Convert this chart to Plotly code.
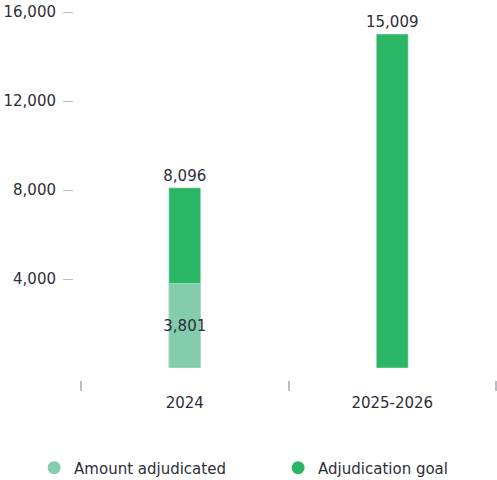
import plotly.graph_objects as go

categories = ["2024", "2025-2026"]
amount_adjudicated = [3801, None]
adjudication_goal = [8096, 15009]
y_ticks = [4000, 8000, 12000, 16000]

C_LIGHT = "#84cdac"
C_DARK = "#2bb665"
TXT = "#2e2e38"
FONT = "DejaVu Sans"

fig = go.Figure()
fig.add_bar(x=categories, y=adjudication_goal, marker_color=C_DARK, name="Adjudication goal",
            text=[f"{v:,}" for v in adjudication_goal], textposition="outside",
            constraintext="none", textangle=0,
            textfont=dict(color=TXT, size=15, family=FONT), cliponaxis=False, showlegend=False,
            hoverinfo="skip")
fig.add_bar(x=categories, y=amount_adjudicated, marker_color=C_LIGHT, name="Amount adjudicated",
            text=[f"{v:,}" if v else "" for v in amount_adjudicated], textposition="inside",
            insidetextanchor="middle", constraintext="none", textangle=0,
            textfont=dict(color=TXT, size=15, family=FONT), showlegend=False, hoverinfo="skip")
# legend entries with circle markers
fig.add_scatter(x=[None], y=[None], mode="markers", name="Amount adjudicated",
                marker=dict(color=C_LIGHT, size=13, symbol="circle"))
fig.add_scatter(x=[None], y=[None], mode="markers", name="Adjudication goal",
                marker=dict(color=C_DARK, size=13, symbol="circle"))

fig.update_layout(
    width=497, height=480,
    margin=dict(l=73, r=1, t=12, b=100, autoexpand=False),
    paper_bgcolor="white", plot_bgcolor="white",
    barmode="overlay", bargap=0.846,
    font=dict(family=FONT, color=TXT, size=15),
    legend=dict(orientation="h", x=-0.092, xanchor="left", y=-0.239, yanchor="middle",
                font=dict(size=15, color=TXT, family=FONT), entrywidth=199, itemwidth=30),
    xaxis=dict(domain=[8/423, 1], anchor="free", position=0, type="category",
               tickson="boundaries", ticks="outside", ticklen=10, tickwidth=1.5,
               tickcolor="#b9bec6", showline=False, showgrid=False, zeroline=False,
               tickfont=dict(size=15, color=TXT), ticklabelstandoff=12, automargin=False),
    yaxis=dict(domain=[12/368, 1], range=[0, 16000], anchor="free", position=0,
               tickvals=y_ticks, tickformat=",", ticks="outside", ticklen=10, tickwidth=1,
               tickcolor="#b9bec6", showline=False, showgrid=False, zeroline=False,
               tickfont=dict(size=15, color=TXT), ticklabelstandoff=4, automargin=False),
)

fig.write_html("out.html", config={"displayModeBar": False},
               post_script="document.body.style.margin='0';document.body.style.padding='0';")
